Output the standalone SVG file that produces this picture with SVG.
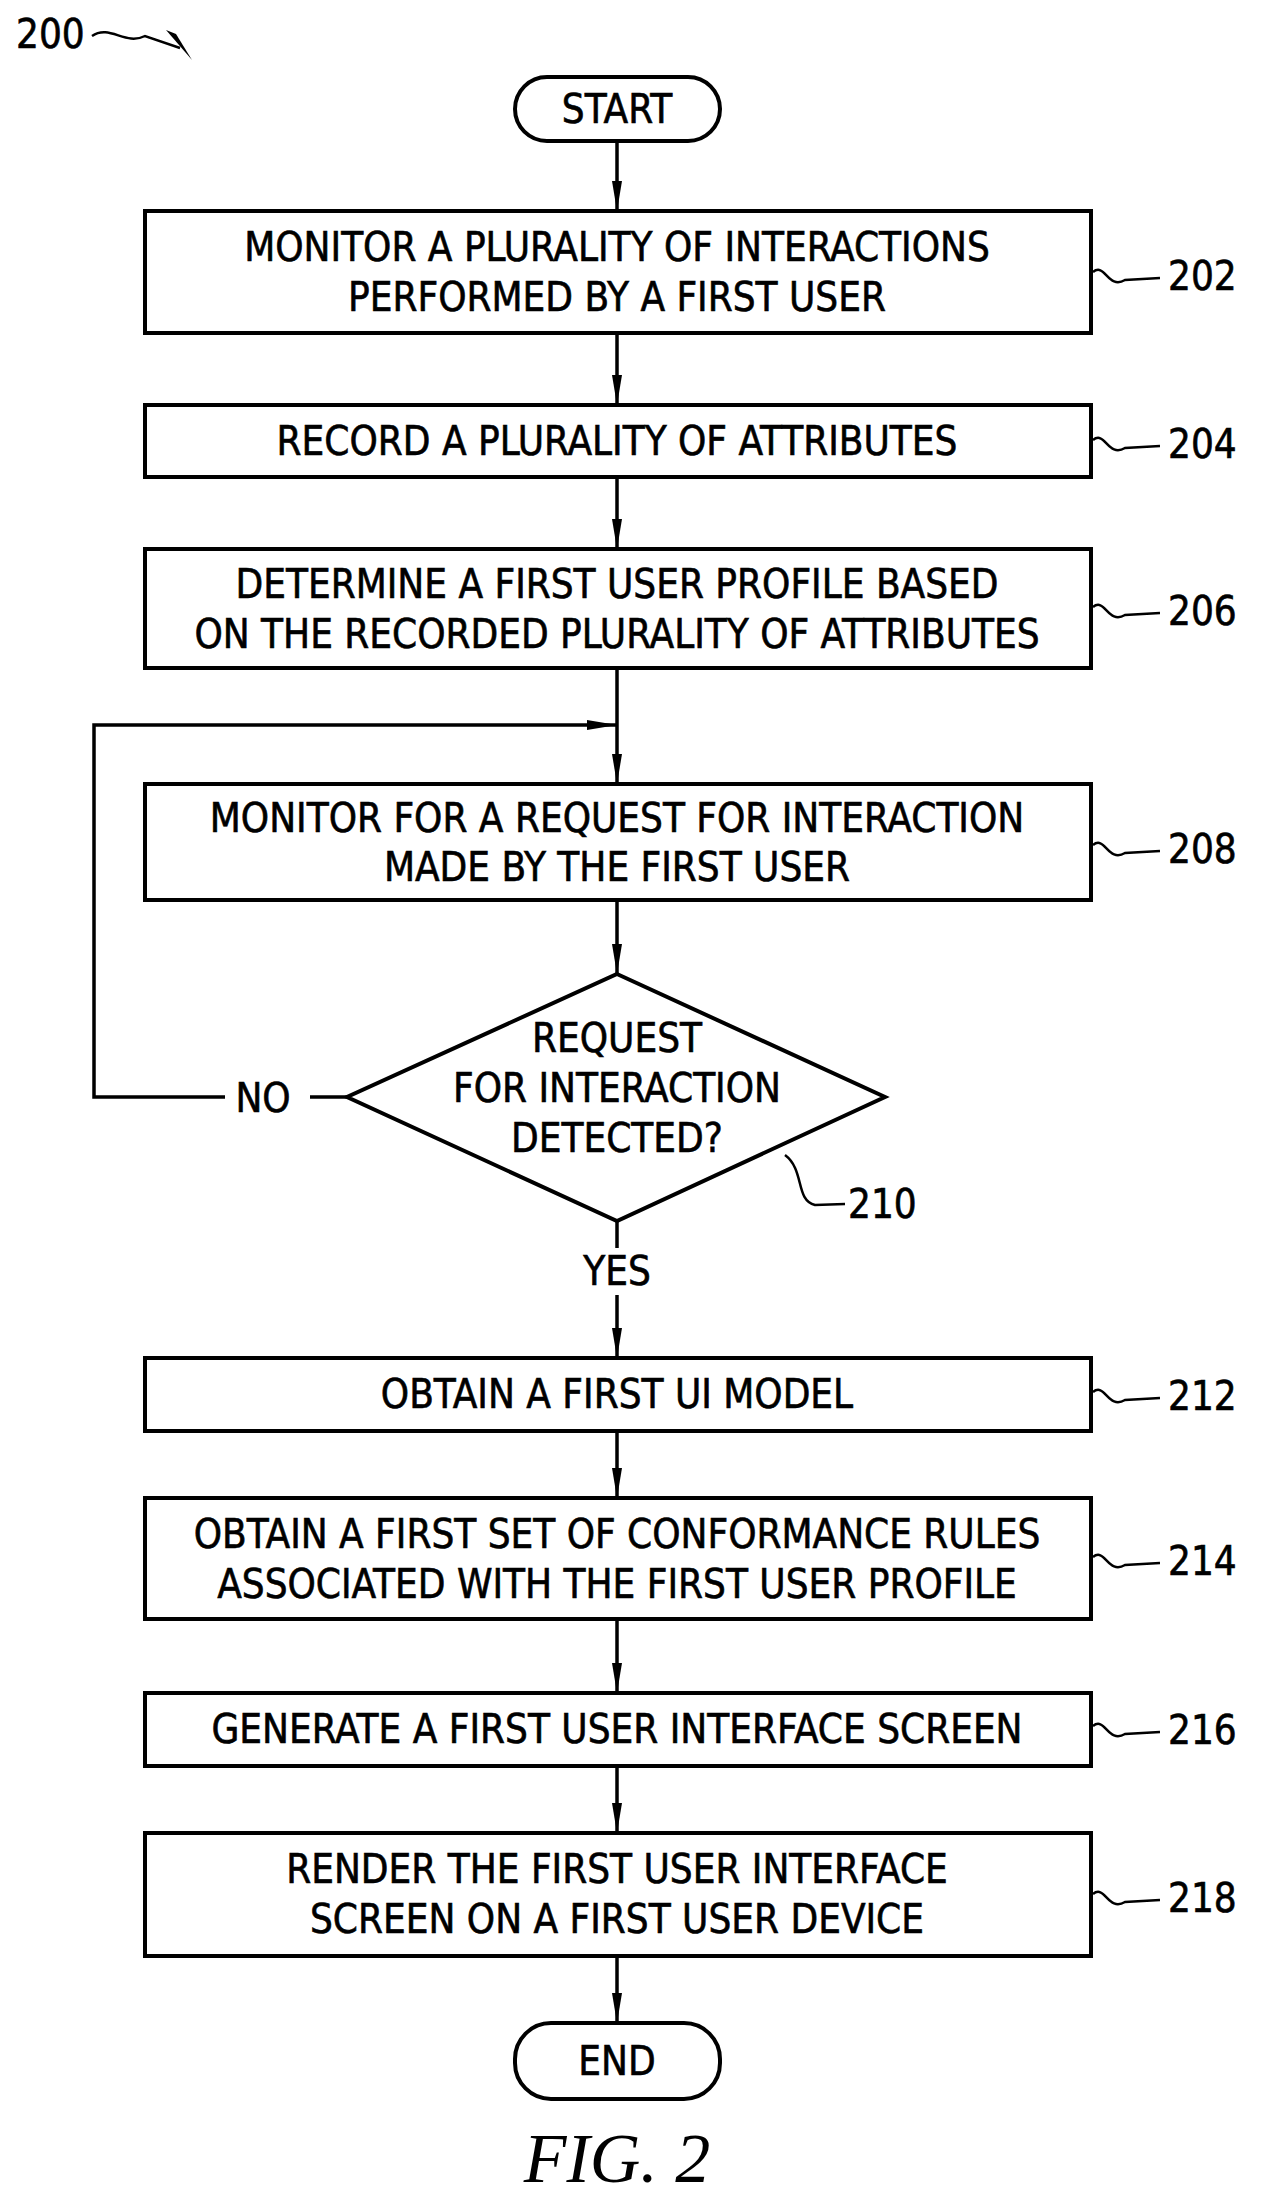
<svg xmlns="http://www.w3.org/2000/svg" width="1264" height="2206" viewBox="0 0 1264 2206">
<style>
.b{fill:#fff;stroke:#000;stroke-width:4}
.t{font-family:"DejaVu Sans Condensed","DejaVu Sans",sans-serif;font-size:40px;text-anchor:middle;fill:#000;stroke:#000;stroke-width:0.6}
.r{font-family:"DejaVu Sans Condensed","DejaVu Sans",sans-serif;font-size:40px;fill:#000;stroke:#000;stroke-width:0.6}
.c{fill:none;stroke:#000;stroke-width:3.5}
.l{fill:none;stroke:#000;stroke-width:2.5}
</style>
<defs>
<marker id="ah" viewBox="0 0 30 12" markerWidth="30" markerHeight="12" refX="30" refY="6" orient="auto" markerUnits="userSpaceOnUse"><path d="M0,1 L30,6 L0,11 Z"/></marker></defs>
<text x="16" y="48" class="r">200</text>
<path class="l" d="M92,36 C110,24 125,46 145,36 L180,48"/>
<path d="M166,30 L192,60 L176,34 Z"/>
<g id="connectors">
<path class="c" marker-end="url(#ah)" d="M617,141 V211"/>
<path class="c" marker-end="url(#ah)" d="M617,333 V405"/>
<path class="c" marker-end="url(#ah)" d="M617,477 V549"/>
<path class="c" marker-end="url(#ah)" d="M617,668 V784"/>
<path class="c" marker-end="url(#ah)" d="M347,1097 H310 M225,1097 H94 V725 H617"/>
<path class="c" marker-end="url(#ah)" d="M617,900 V974"/>
<path class="c" d="M617,1221 V1248"/>
<path class="c" marker-end="url(#ah)" d="M617,1295 V1358"/>
<path class="c" marker-end="url(#ah)" d="M617,1431 V1498"/>
<path class="c" marker-end="url(#ah)" d="M617,1619 V1693"/>
<path class="c" marker-end="url(#ah)" d="M617,1766 V1833"/>
<path class="c" marker-end="url(#ah)" d="M617,1956 V2023"/>
<text x="263" y="1112" class="t">NO</text>
<text x="617" y="1285" class="t">YES</text>
</g>
<g id="start"><rect class="b" x="515" y="77" width="205" height="64" rx="32"/><text x="617" y="123" class="t">START</text></g>
<g id="n202"><rect class="b" x="145" y="211" width="946" height="122"/><text x="617" y="261" class="t">MONITOR A PLURALITY OF INTERACTIONS</text><text x="617" y="311" class="t">PERFORMED BY A FIRST USER</text>
<path class="l" d="M1093,272 C1105,262 1108,290 1125,280 L1160,278"/><text x="1168" y="290" class="r">202</text></g>
<g id="n204"><rect class="b" x="145" y="405" width="946" height="72"/><text x="617" y="455" class="t">RECORD A PLURALITY OF ATTRIBUTES</text>
<path class="l" d="M1093,440 C1105,430 1108,458 1125,448 L1160,446"/><text x="1168" y="458" class="r">204</text></g>
<g id="n206"><rect class="b" x="145" y="549" width="946" height="119"/><text x="617" y="598" class="t">DETERMINE A FIRST USER PROFILE BASED</text><text x="617" y="648" class="t">ON THE RECORDED PLURALITY OF ATTRIBUTES</text>
<path class="l" d="M1093,607 C1105,597 1108,625 1125,615 L1160,613"/><text x="1168" y="625" class="r">206</text></g>
<g id="n208"><rect class="b" x="145" y="784" width="946" height="116"/><text x="617" y="832" class="t">MONITOR FOR A REQUEST FOR INTERACTION</text><text x="617" y="881" class="t">MADE BY THE FIRST USER</text>
<path class="l" d="M1093,845 C1105,835 1108,863 1125,853 L1160,851"/><text x="1168" y="863" class="r">208</text></g>
<g id="n210"><path class="b" d="M617,974 L885,1097 L617,1221 L347,1097 Z"/><text x="617" y="1052" class="t">REQUEST</text><text x="617" y="1102" class="t">FOR INTERACTION</text><text x="617" y="1152" class="t">DETECTED?</text>
<path class="l" d="M785,1155 C805,1170 795,1200 815,1205 L845,1204"/><text x="848" y="1218" class="r">210</text></g>
<g id="n212"><rect class="b" x="145" y="1358" width="946" height="73"/><text x="617" y="1408" class="t">OBTAIN A FIRST UI MODEL</text>
<path class="l" d="M1093,1392 C1105,1382 1108,1410 1125,1400 L1160,1398"/><text x="1168" y="1410" class="r">212</text></g>
<g id="n214"><rect class="b" x="145" y="1498" width="946" height="121"/><text x="617" y="1548" class="t">OBTAIN A FIRST SET OF CONFORMANCE RULES</text><text x="617" y="1598" class="t">ASSOCIATED WITH THE FIRST USER PROFILE</text>
<path class="l" d="M1093,1557 C1105,1547 1108,1575 1125,1565 L1160,1563"/><text x="1168" y="1575" class="r">214</text></g>
<g id="n216"><rect class="b" x="145" y="1693" width="946" height="73"/><text x="617" y="1743" class="t">GENERATE A FIRST USER INTERFACE SCREEN</text>
<path class="l" d="M1093,1726 C1105,1716 1108,1744 1125,1734 L1160,1732"/><text x="1168" y="1744" class="r">216</text></g>
<g id="n218"><rect class="b" x="145" y="1833" width="946" height="123"/><text x="617" y="1883" class="t">RENDER THE FIRST USER INTERFACE</text><text x="617" y="1933" class="t">SCREEN ON A FIRST USER DEVICE</text>
<path class="l" d="M1093,1894 C1105,1884 1108,1912 1125,1902 L1160,1900"/><text x="1168" y="1912" class="r">218</text></g>
<g id="end"><rect class="b" x="515" y="2023" width="205" height="76" rx="36"/><text x="617" y="2075" class="t">END</text></g>
<text x="617" y="2182" font-family="Liberation Serif,serif" font-style="italic" font-size="70" text-anchor="middle">FIG. 2</text>
</svg>
